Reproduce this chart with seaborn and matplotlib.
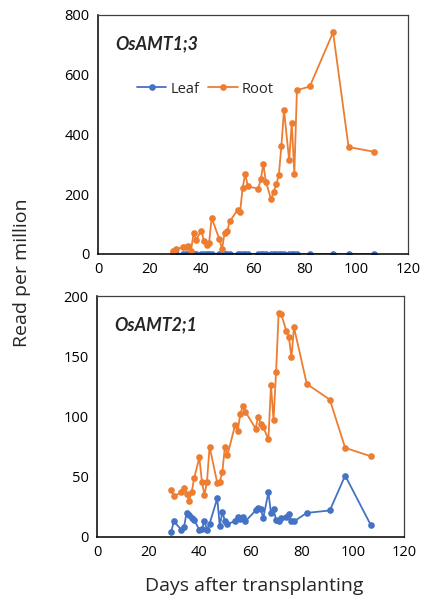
import numpy as np
import seaborn as sns
import matplotlib
matplotlib.use("Agg")
import matplotlib.pyplot as plt

# sampling days (days after transplanting)
days = [29, 30, 33, 34, 35, 36, 37, 38, 40, 41, 42, 43, 44, 47, 48, 49, 50, 51,
    54, 55, 56, 57, 58, 62, 63, 64, 65, 67, 68, 69, 70, 71, 72, 74, 75, 76, 77,
    82, 91, 97, 107]

# OsAMT1;3
amt13_leaf = [0.3] * 41
amt13_root = [9, 17, 22, 24, 28, 11, 70, 48, 78, 44, 31, 37, 121, 49, 17, 70,
    76, 109, 147, 141, 222, 268, 226, 219, 250, 300, 242, 183, 208, 234, 264,
    363, 482, 313, 438, 269, 548, 561, 742, 358, 342]

# OsAMT2;1
amt21_leaf = [4, 13, 6, 8, 20, 18, 16, 14, 6, 7, 13, 6, 11, 32, 9, 21, 13, 11,
    13, 17, 15, 17, 13, 22, 24, 23, 16, 37, 20, 23, 14, 13, 16, 17, 19, 13, 13,
    20, 22, 51, 10]
amt21_root = [39, 34, 37, 41, 36, 30, 37, 49, 66, 46, 35, 46, 75, 45, 46, 54,
    75, 68, 93, 88, 102, 109, 104, 90, 100, 94, 91, 81, 126, 97, 137, 186, 185,
    171, 166, 149, 174, 127, 114, 74, 67]

BLUE = "#4472C4"
ORANGE = "#ED7D31"

sns.set_style("white")
plt.rcParams['font.family'] = ['Open Sans', 'DejaVu Sans']

fig = plt.figure(figsize=(4.21, 5.97), dpi=100)
ax1 = fig.add_axes([98 / 421, 1 - 254 / 597, 310 / 421, 239 / 597])
ax2 = fig.add_axes([97 / 421, 1 - 537 / 597, 307 / 421, 241 / 597])

panels = [
    (ax1, amt13_leaf, amt13_root, "OsAMT1;3", [0, 200, 400, 600, 800]),
    (ax2, amt21_leaf, amt21_root, "OsAMT2;1", [0, 50, 100, 150, 200]),
]

for ax, leaf, root, name, yticks in panels:
    sns.lineplot(x=days, y=leaf, ax=ax, color=BLUE, marker="o", markersize=4.8,
        markeredgewidth=0, linewidth=1.3, label="Leaf")
    sns.lineplot(x=days, y=root, ax=ax, color=ORANGE, marker="o", markersize=4.8,
        markeredgewidth=0, linewidth=1.3, label="Root")
    ax.set_xlim(0, 120)
    ax.set_ylim(yticks[0], yticks[-1])
    ax.set_xticks([0, 20, 40, 60, 80, 100, 120])
    ax.set_yticks(yticks)
    ax.tick_params(direction="in", length=4, width=1, labelsize=10.5,
        colors="black", pad=6)
    for side in ["left", "bottom"]:
        ax.spines[side].set_color("black")
        ax.spines[side].set_linewidth(1.1)
    for side in ["top", "right"]:
        ax.spines[side].set_color("#404040")
        ax.spines[side].set_linewidth(0.9)
    ax.text(0.055, 0.88, name, transform=ax.transAxes, fontsize=12.8,
        fontweight="bold", fontstyle="italic", va="center", ha="left",
        family=["Lato", "DejaVu Sans"])
    ax.set_xlabel("")
    ax.set_ylabel("")

ax1.legend(loc="center left", bbox_to_anchor=(0.084, 0.69), ncol=2, frameon=False,
    fontsize=10.5, handlelength=2.0, handletextpad=0.3, columnspacing=0.6)
ax2.get_legend().remove()

fig.text(22 / 421, 1 - 273 / 597, "Read per million", rotation=90,
    ha="center", va="center", fontsize=14)
fig.text(254 / 421, 1 - 586 / 597, "Days after transplanting",
    ha="center", va="center", fontsize=14)

fig.savefig("out.png", dpi=100)
